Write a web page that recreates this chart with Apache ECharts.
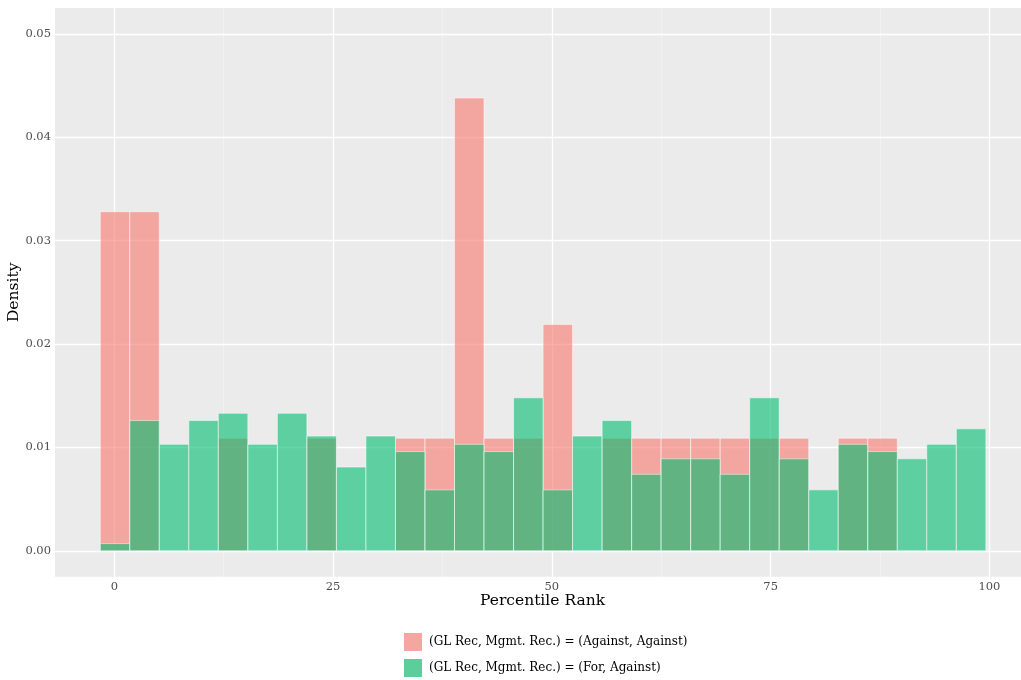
<!DOCTYPE html>
<html><head><meta charset="utf-8">
<script src="https://cdn.jsdelivr.net/npm/echarts@6/dist/echarts.min.js"></script>
<style>html,body{margin:0;padding:0;background:#fff}#main{width:1021px;height:680px}</style>
</head><body><div id="main"></div>
<script>
// ---- data ----
const binCenters = [0.08, 3.45, 6.83, 10.20, 13.57, 16.95, 20.32, 23.69, 27.07, 30.44,
  33.81, 37.19, 40.56, 43.93, 47.31, 50.68, 54.05, 57.43, 60.80, 64.17,
  67.55, 70.92, 74.29, 77.67, 81.04, 84.41, 87.79, 91.16, 94.53, 97.91];
const binWidth = 3.373;
const againstAgainst = [0.0328, 0.0328, 0, 0, 0.0109, 0, 0, 0.0109, 0, 0,
  0.0109, 0.0109, 0.0438, 0.0109, 0.0109, 0.0219, 0, 0.0109, 0.0109, 0.0109,
  0.0109, 0.0109, 0.0109, 0.0109, 0, 0.0109, 0.0109, 0, 0, 0];
const forAgainst = [0.0007, 0.0126, 0.0103, 0.0126, 0.0133, 0.0103, 0.0133, 0.0111, 0.0081, 0.0111,
  0.0096, 0.0059, 0.0103, 0.0096, 0.0148, 0.0059, 0.0111, 0.0126, 0.0074, 0.0089,
  0.0089, 0.0074, 0.0148, 0.0089, 0.0059, 0.0103, 0.0096, 0.0089, 0.0103, 0.0118];
const seriesNames = ['(GL Rec, Mgmt. Rec.) = (Against, Against)', '(GL Rec, Mgmt. Rec.) = (For, Against)'];
const xTicks = [0, 25, 50, 75, 100];
const xMinor = [12.5, 37.5, 62.5, 87.5];
const yTicks = [0, 0.01, 0.02, 0.03, 0.04, 0.05];
const yMinor = [0.005, 0.015, 0.025, 0.035, 0.045];

const FONT = 'DejaVu Serif';
const chart = echarts.init(document.getElementById('main'), null, {renderer: 'canvas'});

function histSeries(name, values, color, z) {
  return {
    type: 'custom', name: name, z: z,
    itemStyle: {color: color},
    encode: {x: 0, y: 1},
    data: binCenters.map((c, i) => [c, values[i]]),
    renderItem: function (params, api) {
      const c = api.value(0), v = api.value(1);
      if (!v) return null;
      const p0 = api.coord([c - binWidth / 2, v]);
      const p1 = api.coord([c + binWidth / 2, 0]);
      return {
        type: 'rect',
        shape: {x: p0[0], y: p0[1], width: p1[0] - p0[0], height: p1[1] - p0[1]},
        style: {fill: color, stroke: 'rgba(255,255,255,0.65)', lineWidth: 0.8}
      };
    }
  };
}

const major = {color: '#ffffff', width: 1.3, type: 'solid'};
const minor = {color: '#f4f4f4', width: 0.7, type: 'solid'};
const gridLines = []
  .concat(yMinor.map(v => ({yAxis: v, lineStyle: minor})))
  .concat(xMinor.map(v => ({xAxis: v, lineStyle: minor})))
  .concat(yTicks.map(v => ({yAxis: v, lineStyle: major})))
  .concat(xTicks.map(v => ({xAxis: v, lineStyle: major})));

chart.setOption({
  animation: false,
  backgroundColor: '#ffffff',
  grid: {left: 55, right: -9, top: 8, bottom: 103.3, show: true, backgroundColor: '#EBEBEB', borderWidth: 0,
    containLabel: false, outerBoundsMode: 'none'},
  legend: {
    orient: 'vertical', left: 404, top: 633, padding: 0,
    itemWidth: 18, itemHeight: 18, itemGap: 8, icon: 'rect',
    textStyle: {fontFamily: FONT, fontSize: 12, color: '#000', padding: [2, 0, 0, 2]},
    data: [
      {name: seriesNames[0], itemStyle: {color: '#F4A7A0'}},
      {name: seriesNames[1], itemStyle: {color: '#5CCE9C'}}
    ]
  },
  xAxis: {
    type: 'value', min: -6.78, max: 104.64,
    axisLine: {show: false},
    axisTick: {show: true, customValues: xTicks, length: 3, lineStyle: {color: '#333', width: 1}},
    axisLabel: {customValues: xTicks, color: '#4D4D4D', fontFamily: FONT, fontSize: 11.5, margin: 4},
    splitLine: {show: false},
    name: 'Percentile Rank', nameLocation: 'middle', nameGap: 16, nameMoveOverlap: false,
    nameTextStyle: {fontFamily: FONT, fontSize: 15.5, color: '#000'}
  },
  yAxis: {
    type: 'value', min: -0.0025, max: 0.0525,
    axisLine: {show: false},
    axisTick: {show: true, customValues: yTicks, length: 3, lineStyle: {color: '#333', width: 1}},
    axisLabel: {customValues: yTicks, color: '#4D4D4D', fontFamily: FONT, fontSize: 11.5, margin: 4,
      formatter: v => v.toFixed(2)},
    splitLine: {show: false},
    name: 'Density', nameLocation: 'middle', nameGap: 33, nameMoveOverlap: false,
    nameTextStyle: {fontFamily: FONT, fontSize: 15.5, color: '#000'}
  },
  series: [
    {type: 'line', name: 'gridlines', data: [], z: 1, silent: true,
      markLine: {silent: true, symbol: ['none', 'none'], label: {show: false}, z: 1, animation: false,
        emphasis: {disabled: true}, data: gridLines}},
    histSeries(seriesNames[0], againstAgainst, 'rgba(248,118,109,0.6)', 2),
    histSeries(seriesNames[1], forAgainst, 'rgba(0,189,112,0.6)', 3)
  ]
});
</script></body></html>
